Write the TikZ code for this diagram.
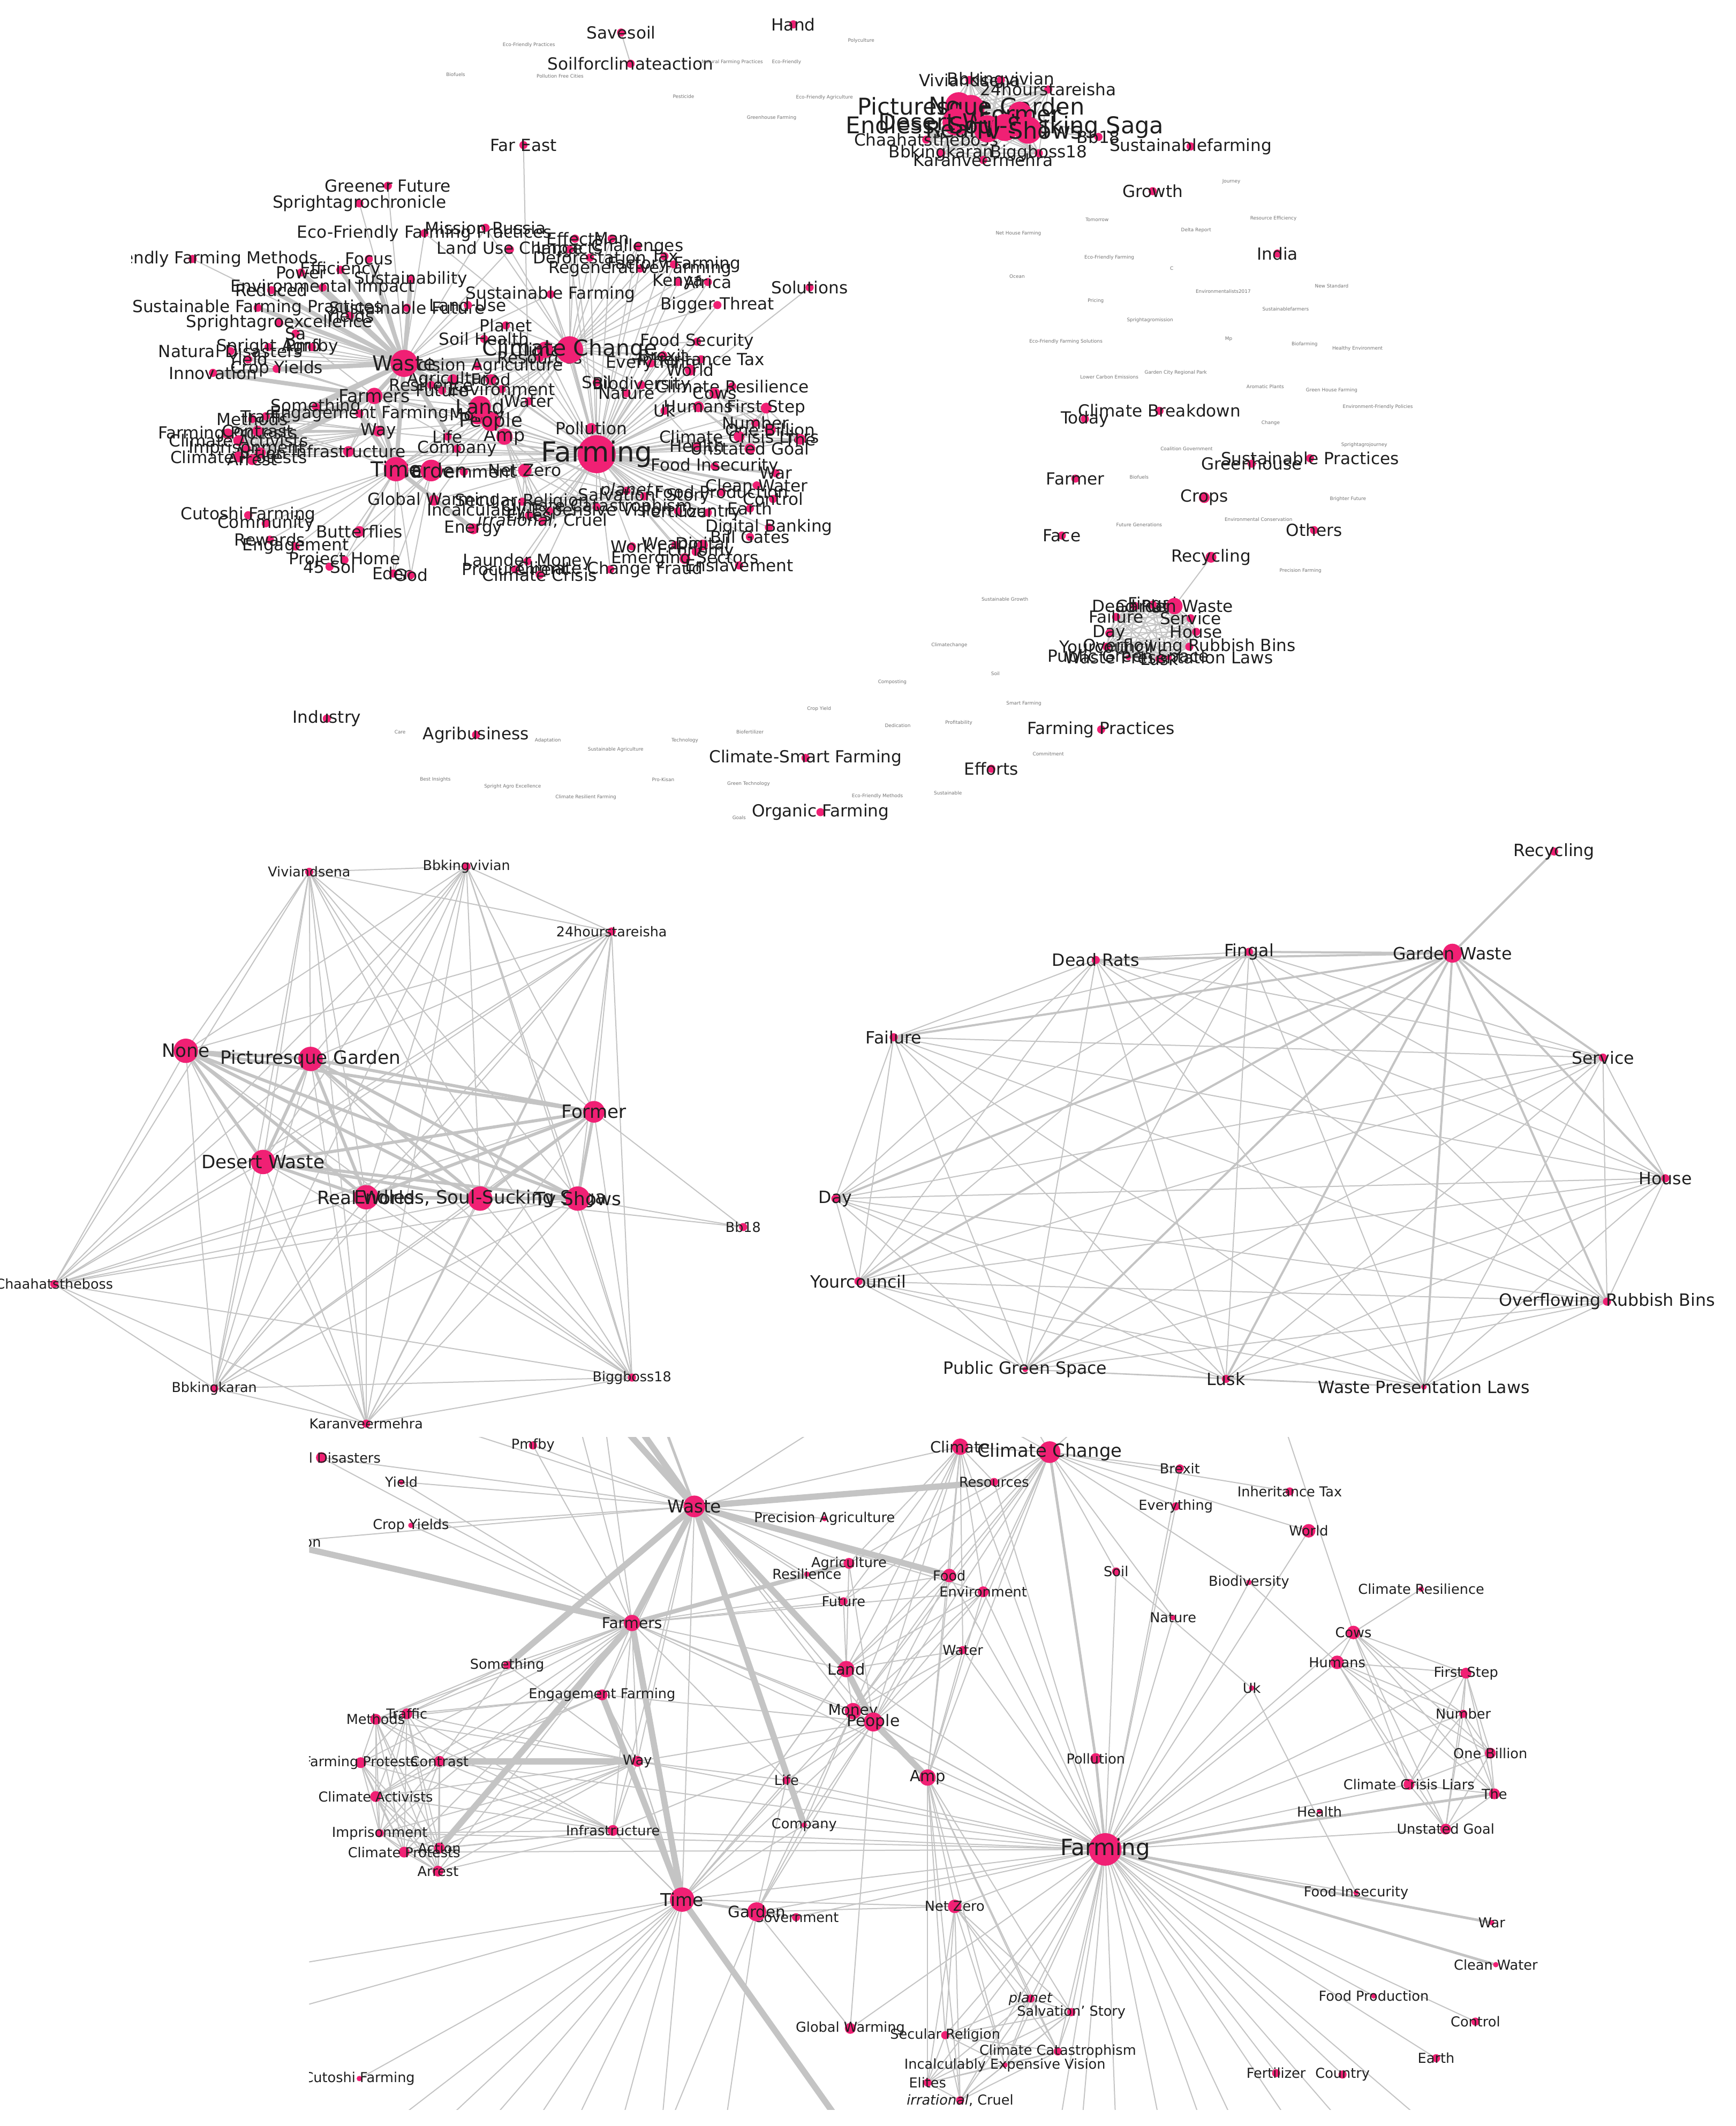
\documentclass[tikz,border=0pt]{standalone}
\usepackage{fontspec}
\setmainfont{DejaVu Sans}
\definecolor{dotc}{RGB}{240,32,116}
\definecolor{edgec}{RGB}{196,196,196}
\definecolor{txtc}{RGB}{30,30,30}
\tikzset{
 dotn/.style={circle,fill=dotc,draw=none,inner sep=0pt},
 lbl/.style={text=txtc,inner sep=0pt},
 tinyl/.style={text=black!55,inner sep=0pt,font=\fontsize{2pt}{2pt}\selectfont},
 edge/.style={draw=edgec,line width=0.45pt},
 md/.style={line width=1.1pt},
 tk/.style={line width=1.8pt},
 bk/.style={line width=2.6pt},
 cr/.style={line width=1.3pt},
}
\newcommand\dfs{7pt}
\newcommand\Xc[6]{\coordinate (#1) at (#2,#3);}
\newcommand\Xd[6]{\node[dotn,minimum size={#4*1.138pt}] (#1d) at (#1) {};\node[lbl,font={\fontsize{#5}{#5}\selectfont}] (#1l) at (#1) {#6};}
\newcommand\Tn[4]{\node[tinyl] (#1) at (#2,#3) {#4};}
\newcommand\mke[3][]{\foreach \q in {#3}{\draw[edge,#1] (#2) -- (\q);}}
\newcommand\mkk[2][]{\foreach \na [count=\ia] in {#2}{\foreach \nb [count=\ib] in {#2}{\ifnum\ib>\ia\relax \draw[edge,#1] (\na) -- (\nb);\fi}}}

% ---------------- top panel data
\newcommand\tdata{%
\X{tHand}{585}{18}{3}{\dfs}{Hand}
\X{tSavesoil}{458}{24}{3}{\dfs}{Savesoil}
\X{tSoilfor}{465}{47}{3}{\dfs}{Soilforclimateaction}
\X{tFarEast}{386}{107}{3}{\dfs}{Far East}
\X{tGreener}{286}{137}{3}{\dfs}{Greener Future}
\X{tSprChron}{265}{150}{3}{\dfs}{Sprightagrochronicle}
\X{tEFFP}{313}{172}{3}{\dfs}{Eco-Friendly Farming Practices}
\X{tMission}{358}{168}{3}{\dfs}{Mission Russia}
\X{tLUC}{376}{184}{3}{\dfs}{Land Use Change}
\X{tEffects}{424}{176}{3}{\dfs}{Effects}
\X{tMan}{451}{176}{3}{\dfs}{Man}
\X{tImpacts}{420}{184}{3}{\dfs}{Impacts}
\X{tChall}{470}{182}{3}{\dfs}{Challenges}
\X{tDefor}{435}{190}{3}{\dfs}{Deforestation}
\X{tTax}{490}{189}{3}{\dfs}{Tax}
\X{tRegen}{472}{198}{3}{\dfs}{Regenerative Farming}
\X{tFactory}{497}{195}{3}{\dfs}{Factory Farming}
\X{tKenya}{500}{208}{3}{\dfs}{Kenya}
\X{tAfrica}{522}{208}{3}{\dfs}{Africa}
\X{tSolutions}{597}{212}{3}{\dfs}{Solutions}
\X{tBigger}{529}{225}{3}{\dfs}{Bigger Threat}
\X{tEFFM}{142}{191}{3}{\dfs}{Eco-Friendly Farming Methods}
\X{tFocus}{272}{191}{3}{\dfs}{Focus}
\X{tEff}{251}{199}{3}{\dfs}{Efficiency}
\X{tPower}{222}{201}{3}{\dfs}{Power}
\X{tSustain}{303}{206}{3}{\dfs}{Sustainability}
\X{tEnvImp}{238}{212}{3}{\dfs}{Environmental Impact}
\X{tReduced}{200}{214}{3}{\dfs}{Reduced}
\X{tSustFarm}{406}{217}{3}{\dfs}{Sustainable Farming}
\X{tSFP}{190}{227}{3}{\dfs}{Sustainable Farming Practices}
\X{tSFut}{300}{227}{3}{\dfs}{Sustainable Future}
\X{tLandUse}{345}{225}{3}{\dfs}{Land Use}
\X{tYields}{258}{233}{3}{\dfs}{Yields}
\X{tSprEx}{206}{238}{3}{\dfs}{Sprightagroexcellence}
\X{tPlanet}{373}{240}{3}{\dfs}{Planet}
\X{tSa}{218}{246}{3}{\dfs}{Sa}
\X{tSoilH}{357}{250}{3}{\dfs}{Soil Health}
\X{tFoodSec}{514}{252}{3}{\dfs}{Food Security}
\X{tSprAgro}{198}{256}{3}{\dfs}{Spright Agro}
\X{tPmfby}{230}{256}{3}{\dfs}{Pmfby}
\X{tNatDis}{170}{259}{3}{\dfs}{Natural Disasters}
\X{tBrexit}{489}{262}{3}{\dfs}{Brexit}
\X{tResources}{398}{264}{3}{\dfs}{Resources}
\X{tInhTax}{517}{265}{3}{\dfs}{Inheritance Tax}
\X{tEverything}{480}{268}{3}{\dfs}{Everything}
\X{tYield}{183}{265}{3}{\dfs}{Yield}
\X{tPrecAg}{352}{270}{3}{\dfs}{Precision Agriculture}
\X{tWorld}{509}{273}{4}{\dfs}{World}
\X{tCropY}{204}{272}{3}{\dfs}{Crop Yields}
\X{tInnov}{157}{275}{3}{\dfs}{Innovation}
\X{tAgri}{334}{280}{4}{\dfs}{Agriculture}
\X{tFood}{362}{280}{4}{\dfs}{Food}
\X{tResil}{318}{284}{3}{\dfs}{Resilience}
\X{tSoil}{440}{282}{3}{\dfs}{Soil}
\X{tBiodiv}{473}{284}{3}{\dfs}{Biodiversity}
\X{tClimRes}{540}{285}{3}{\dfs}{Climate Resilience}
\X{tFuture}{326}{288}{3}{\dfs}{Future}
\X{tEnv}{370}{287}{3}{\dfs}{Environment}
\X{tNature}{462}{290}{3}{\dfs}{Nature}
\X{tCows}{527}{290}{4}{\dfs}{Cows}
\X{tWater}{390}{296}{3}{\dfs}{Water}
\X{tHumans}{515}{300}{4}{\dfs}{Humans}
\X{tFirstStep}{565}{301}{4}{\dfs}{First Step}
\X{tSomething}{233}{300}{3}{\dfs}{Something}
\X{tUk}{490}{303}{3}{\dfs}{Uk}
\X{tEngFarm}{265}{305}{3}{\dfs}{Engagement Farming}
\X{tMethods}{186}{309}{3}{\dfs}{Methods}
\X{tTraffic}{196}{307}{3}{\dfs}{Traffic}
\X{tNumber}{557}{312}{3}{\dfs}{Number}
\X{tOneBillion}{568}{317}{4}{\dfs}{One Billion}
\X{tFarmProt}{168}{320}{4}{\dfs}{Farming Protests}
\X{tContrast}{190}{318}{4}{\dfs}{Contrast}
\X{tWay}{279}{318}{4}{\dfs}{Way}
\X{tLife}{330}{322}{3}{\dfs}{Life}
\X{tPollution}{436}{316}{4}{\dfs}{Pollution}
\X{tClimAct}{176}{325}{4}{\dfs}{Climate Activists}
\X{tCCL}{545}{322}{4}{\dfs}{Climate Crisis Liars}
\X{tThe}{590}{324}{4}{\dfs}{The}
\X{tHealth}{514}{329}{3}{\dfs}{Health}
\X{tImpris}{182}{331}{3}{\dfs}{Imprisonment}
\X{tInfra}{257}{333}{4}{\dfs}{Infrastructure}
\X{tCompany}{337}{331}{3}{\dfs}{Company}
\X{tUnstated}{553}{331}{4}{\dfs}{Unstated Goal}
\X{tAction}{192}{334}{4}{\dfs}{Action}
\X{tClimProt}{176}{337}{4}{\dfs}{Climate Protests}
\X{tArrest}{186}{339}{4}{\dfs}{Arrest}
\X{tFoodInsec}{527}{344}{3}{\dfs}{Food Insecurity}
\X{tNetZero}{387}{347}{5}{\dfs}{Net Zero}
\X{tGov}{342}{348}{3}{\dfs}{Government}
\X{tWar}{572}{349}{3}{\dfs}{War}
\X{tCleanWater}{558}{358}{3}{\dfs}{Clean Water}
\X{tPlanetB}{462}{362}{3}{\dfs}{\textit{planet}}
\X{tFoodProd}{532}{363}{3}{\dfs}{Food Production}
\X{tSalv}{475}{366}{3}{\dfs}{Salvation' Story}
\X{tControl}{570}{368}{3}{\dfs}{Control}
\X{tGlobalW}{320}{369}{4}{\dfs}{Global Warming}
\X{tSecular}{385}{370}{3}{\dfs}{Secular Religion}
\X{tCatas}{440}{374}{3}{\dfs}{Climate Catastrophism}
\X{tEarth}{553}{375}{3}{\dfs}{Earth}
\X{tIncalc}{405}{377}{3}{\dfs}{Incalculably Expensive Vision}
\X{tFert}{500}{377}{3}{\dfs}{Fertilizer}
\X{tCountry}{522}{378}{3}{\dfs}{Country}
\X{tElites}{390}{380}{3}{\dfs}{Elites}
\X{tCutoshi}{183}{380}{3}{\dfs}{Cutoshi Farming}
\X{tIrr}{400}{384}{3}{\dfs}{{\itshape irrational}, Cruel}
\X{tCommunity}{196}{386}{3}{\dfs}{Community}
\X{tDigBank}{567}{389}{3}{\dfs}{Digital Banking}
\X{tEnergy}{349}{390}{4}{\dfs}{Energy}
\X{tButter}{265}{392}{4}{\dfs}{Butterflies}
\X{tBillGates}{553}{396}{3}{\dfs}{Bill Gates}
\X{tRewards}{199}{398}{3}{\dfs}{Rewards}
\X{tWeapon}{498}{402}{3}{\dfs}{Weapon}
\X{tDigital}{518}{402}{4}{\dfs}{Digital}
\X{tWork}{466}{403}{3}{\dfs}{Work}
\X{tEngage}{218}{403}{3}{\dfs}{Engagement}
\X{tEconomy}{513}{407}{3}{\dfs}{Economy}
\X{tEmerging}{505}{412}{4}{\dfs}{Emerging Sectors}
\X{tProjHome}{254}{413}{3}{\dfs}{Project Home}
\X{tLaunder}{389}{414}{3}{\dfs}{Launder Money}
\X{tEnslave}{545}{417}{3}{\dfs}{Enslavement}
\X{t45Sol}{243}{418}{3}{\dfs}{45 Sol}
\X{tProcure}{380}{420}{3}{\dfs}{Procurement}
\X{tCCFraud}{450}{420}{3}{\dfs}{Climate Change Fraud}
\X{tEden}{290}{423}{3}{\dfs}{Eden}
\X{tGod}{303}{424}{3}{\dfs}{God}
\X{tClimCrisis}{398}{424}{3}{\dfs}{Climate Crisis}
\X{tMoney}{352}{307}{6}{\dfs}{Money}
\X{tFarmers}{276}{292}{6}{7.5pt}{Farmers}
\X{tClimate}{402}{258}{6}{7.5pt}{Climate}
\X{tAmp}{372}{322}{6}{7.5pt}{Amp}
\X{tPeople}{362}{311}{7}{8pt}{People}
\X{tLand}{354}{300}{8}{8.5pt}{Land}
\X{tGarden}{318}{347}{8}{8.3pt}{Garden}
\X{tTime}{292}{346}{9}{8.7pt}{Time}
\X{tWaste}{298}{268}{10}{8.7pt}{Waste}
\X{tCC}{420}{258}{10}{9.2pt}{Climate Change}
\X{tFarming}{440}{335}{14}{11.6pt}{Farming}
}
\newcommand\udata{%
\X{uViv}{715}{59}{3}{\dfs}{Viviandsena}
\X{uBbv}{738}{59}{3}{\dfs}{Bbkingvivian}
\X{u24}{773}{66}{3}{\dfs}{24hourstareisha}
\X{uChaa}{683}{103}{3}{\dfs}{Chaahatstheboss}
\X{uBb18}{810}{101}{3}{\dfs}{Bb18}
\X{uBbk}{694}{113}{3}{\dfs}{Bbkingkaran}
\X{uBigg}{766}{113}{3}{\dfs}{Biggboss18}
\X{uKaran}{725}{118}{3}{\dfs}{Karanveermehra}
\X{uSustF}{878}{108}{3}{\dfs}{Sustainablefarming}
\X{uNone}{707}{78}{10}{9.7pt}{None}
\X{uPict}{716}{80}{10}{9.7pt}{Picturesque Garden}
\X{uFormer}{752}{84}{9}{9.7pt}{Former}
\X{uDesert}{705}{90}{10}{9.7pt}{Desert Waste}
\X{uReal}{728}{95}{10}{9.7pt}{Real World}
\X{uEndless}{741}{94}{10}{9.7pt}{Endless, Soul-Sucking Saga}
\X{uTv}{758}{96}{10}{9.7pt}{Tv Shows}
\X{uGrowth}{850}{141}{3}{\dfs}{Growth}
\X{uIndia}{942}{187}{3}{\dfs}{India}
\X{uCB}{855}{303}{3}{\dfs}{Climate Breakdown}
\X{uToday}{800}{309}{3}{\dfs}{Today}
\X{uSP}{966}{338}{3}{\dfs}{Sustainable Practices}
\X{uGreenhouse}{923}{342}{3}{\dfs}{Greenhouse}
\X{uFarmer}{793}{353}{3}{\dfs}{Farmer}
\X{uCrops}{888}{367}{4}{\dfs}{Crops}
\X{uOthers}{969}{391}{3}{\dfs}{Others}
\X{uFace}{783}{395}{3}{\dfs}{Face}
\X{uRecyc}{893}{411}{4}{\dfs}{Recycling}
\X{gDead}{837}{447}{3}{\dfs}{Dead Rats}
\X{gFingal}{850}{446}{3}{\dfs}{Fingal}
\X{gFailure}{823}{455}{3}{\dfs}{Failure}
\X{gService}{878}{456}{3}{\dfs}{Service}
\X{gDay}{818}{467}{3}{\dfs}{Day}
\X{gHouse}{882}{466}{3}{\dfs}{House}
\X{gYour}{816}{477}{3}{\dfs}{Yourcouncil}
\X{gORB}{877}{477}{3}{\dfs}{Overflowing Rubbish Bins}
\X{gPGS}{832}{485}{2}{\dfs}{Public Green Space}
\X{gLusk}{855}{486}{3}{\dfs}{Lusk}
\X{gWPL}{862}{485}{2}{\dfs}{Waste Presentation Laws}
\X{gGW}{866}{447}{6}{\dfs}{Garden Waste}
\X{uIndustry}{241}{530}{3}{\dfs}{Industry}
\X{uAgri}{351}{542}{3}{\dfs}{Agribusiness}
\X{uFP}{812}{538}{3}{\dfs}{Farming Practices}
\X{uCSF}{594}{559}{3}{\dfs}{Climate-Smart Farming}
\X{uEfforts}{731}{567}{3}{\dfs}{Efforts}
\X{uOrganic}{605}{599}{3}{\dfs}{Organic Farming}
}
% ---------------- middle left
\newcommand\ldata{%
\X{lViv}{228}{643}{3}{\dfs}{Viviandsena}
\X{lBbv}{344}{639}{3}{\dfs}{Bbkingvivian}
\X{l24}{451}{687}{3}{\dfs}{24hourstareisha}
\X{lBb18}{548}{905}{3}{\dfs}{Bb18}
\X{lChaa}{40}{947}{3}{\dfs}{Chaahatstheboss}
\X{lBbk}{158}{1024}{3}{\dfs}{Bbkingkaran}
\X{lBigg}{466}{1016}{3}{\dfs}{Biggboss18}
\X{lKaran}{270}{1050}{3}{\dfs}{Karanveermehra}
\X{lNone}{137}{775}{9}{7.7pt}{None}
\X{lPict}{229}{781}{9}{7.7pt}{Picturesque Garden}
\X{lFormer}{438}{820}{8}{7.7pt}{Former}
\X{lDesert}{194}{857}{9}{7.7pt}{Desert Waste}
\X{lReal}{270}{883}{9}{7.7pt}{Real World}
\X{lEndless}{354}{884}{9}{7.7pt}{Endless, Soul-Sucking Saga}
\X{lTv}{426}{884}{9}{7.7pt}{Tv Shows}
}
% ---------------- middle right
\newcommand\rdata{%
\X{rRecyc}{1146}{628}{3}{\dfs}{Recycling}
\X{rDead}{808}{708}{3}{\dfs}{Dead Rats}
\X{rFingal}{921}{702}{3}{\dfs}{Fingal}
\X{rFailure}{659}{765}{3}{\dfs}{Failure}
\X{rService}{1182}{780}{3}{\dfs}{Service}
\X{rDay}{616}{884}{3}{\dfs}{Day}
\X{rHouse}{1228}{869}{3}{\dfs}{House}
\X{rYour}{633}{945}{3}{\dfs}{Yourcouncil}
\X{rORB}{1185}{960}{3}{\dfs}{Overflowing Rubbish Bins}
\X{rPGS}{756}{1010}{2}{\dfs}{Public Green Space}
\X{rLusk}{904}{1017}{3}{\dfs}{Lusk}
\X{rWPL}{1050}{1023}{2}{\dfs}{Waste Presentation Laws}
\X{rGW}{1071}{703}{7}{\dfs}{Garden Waste}
}
% ---------------- bottom
\newcommand\bdata{%
\X{bSprAgro}{330}{1052}{3}{\dfs}{Spright Agro}
\X{bNatDis}{237}{1075}{4}{\dfs}{Natural Disasters}
\X{bPmfby}{393}{1066}{3}{\dfs}{Pmfby}
\X{bYield}{296}{1093}{2}{\dfs}{Yield}
\X{bCropY}{303}{1125}{2}{\dfs}{Crop Yields}
\X{bInnov}{210}{1137}{3}{\dfs}{Innovation}
\X{bCutoshi}{265}{1533}{2}{\dfs}{Cutoshi Farming}
\X{bResources}{733}{1093}{3}{\dfs}{Resources}
\X{bBrexit}{870}{1083}{3}{\dfs}{Brexit}
\X{bInhTax}{951}{1100}{3}{\dfs}{Inheritance Tax}
\X{bEverything}{867}{1111}{3}{\dfs}{Everything}
\X{bWorld}{965}{1129}{5}{\dfs}{World}
\X{bPrecAg}{608}{1120}{2}{\dfs}{Precision Agriculture}
\X{bAgri}{626}{1153}{4}{\dfs}{Agriculture}
\X{bResil}{595}{1161}{2}{\dfs}{Resilience}
\X{bFood}{700}{1162}{5}{\dfs}{Food}
\X{bEnv}{725}{1174}{4}{\dfs}{Environment}
\X{bFuture}{622}{1181}{3}{\dfs}{Future}
\X{bSoil}{823}{1159}{3}{\dfs}{Soil}
\X{bBiodiv}{921}{1167}{2}{\dfs}{Biodiversity}
\X{bClimRes}{1048}{1172}{2}{\dfs}{Climate Resilience}
\X{bNature}{865}{1193}{2}{\dfs}{Nature}
\X{bWater}{710}{1217}{3}{\dfs}{Water}
\X{bCows}{998}{1204}{5}{\dfs}{Cows}
\X{bHumans}{986}{1226}{5}{\dfs}{Humans}
\X{bFirstStep}{1081}{1234}{4}{\dfs}{First Step}
\X{bSomething}{374}{1228}{3}{\dfs}{Something}
\X{bUk}{923}{1245}{2}{\dfs}{Uk}
\X{bEngFarm}{444}{1250}{4}{\dfs}{Engagement Farming}
\X{bNumber}{1079}{1264}{3}{\dfs}{Number}
\X{bMethods}{277}{1268}{4}{\dfs}{Methods}
\X{bTraffic}{300}{1264}{4}{\dfs}{Traffic}
\X{bFarmProt}{266}{1300}{4}{\dfs}{Farming Protests}
\X{bContrast}{324}{1299}{4}{\dfs}{Contrast}
\X{bWay}{470}{1299}{4}{\dfs}{Way}
\X{bOneBillion}{1099}{1293}{4}{\dfs}{One Billion}
\X{bLife}{580}{1313}{3}{\dfs}{Life}
\X{bPollution}{808}{1297}{4}{\dfs}{Pollution}
\X{bCCL}{1039}{1316}{4}{\dfs}{Climate Crisis Liars}
\X{bThe}{1102}{1323}{4}{\dfs}{The}
\X{bClimAct}{277}{1325}{4}{\dfs}{Climate Activists}
\X{bHealth}{973}{1336}{2}{\dfs}{Health}
\X{bCompany}{593}{1346}{2}{\dfs}{Company}
\X{bInfra}{452}{1350}{4}{\dfs}{Infrastructure}
\X{bUnstated}{1066}{1349}{4}{\dfs}{Unstated Goal}
\X{bImpris}{280}{1352}{3}{\dfs}{Imprisonment}
\X{bAction}{324}{1363}{4}{\dfs}{Action}
\X{bClimProt}{298}{1366}{4}{\dfs}{Climate Protests}
\X{bArrest}{323}{1380}{4}{\dfs}{Arrest}
\X{bFoodInsec}{1000}{1396}{2}{\dfs}{Food Insecurity}
\X{bGov}{587}{1414}{3}{\dfs}{Government}
\X{bNetZero}{704}{1406}{5}{\dfs}{Net Zero}
\X{bWar}{1100}{1418}{2}{\dfs}{War}
\X{bCleanWater}{1103}{1449}{2}{\dfs}{Clean Water}
\X{bPlanet}{760}{1474}{3}{\dfs}{\textit{planet}}
\X{bSalv}{790}{1484}{3}{\dfs}{Salvation' Story}
\X{bFoodProd}{1013}{1472}{2}{\dfs}{Food Production}
\X{bGlobalW}{627}{1496}{4}{\dfs}{Global Warming}
\X{bSecular}{697}{1501}{3}{\dfs}{Secular Religion}
\X{bControl}{1088}{1491}{3}{\dfs}{Control}
\X{bCatas}{780}{1513}{3}{\dfs}{Climate Catastrophism}
\X{bIncalc}{741}{1523}{2}{\dfs}{Incalculably Expensive Vision}
\X{bEarth}{1059}{1518}{3}{\dfs}{Earth}
\X{bElites}{684}{1536}{3}{\dfs}{Elites}
\X{bFert}{941}{1529}{3}{\dfs}{Fertilizer}
\X{bCountry}{990}{1530}{3}{\dfs}{Country}
\X{bIrr}{708}{1549}{3}{\dfs}{{\itshape irrational}, Cruel}
\X{bClimate}{708}{1067}{6}{6.5pt}{Climate}
\X{bLand}{624}{1231}{6}{6.5pt}{Land}
\X{bMoney}{629}{1262}{6}{6.3pt}{Money}
\X{bPeople}{644}{1270}{7}{6.7pt}{People}
\X{bAmp}{684}{1311}{6}{6.5pt}{Amp}
\X{bFarmers}{466}{1197}{6}{6.3pt}{Farmers}
\X{bGarden}{558}{1410}{7}{6.6pt}{Garden}
\X{bTime}{503}{1401}{9}{7.4pt}{Time}
\X{bWaste}{512}{1111}{8}{7.4pt}{Waste}
\X{bCC}{774}{1071}{8}{7.6pt}{Climate Change}
\X{bFarming}{815}{1364}{12}{9.4pt}{Farming}
}

\begin{document}
\begin{tikzpicture}[x=0.02cm,y=-0.02cm]
\useasboundingbox (0,0) rectangle (1280,1568);
\fill[white] (0,0) rectangle (1280,1568);

% ================= TOP PANEL
\begin{scope}
\clip (97,0) rectangle (1280,612);
\renewcommand\dfs{7pt}
\let\X\Xc \tdata \udata
\mke[tk]{tWaste}{tEnvImp,tPower,tEff,tSustain,tSFP,tInnov,tCropY,tFarmers,tTime,tSomething,tResources,tFood,tLand,tCompany,tContrast,tFocus,tReduced}
\mke[tk]{tFarmers}{tContrast,tAction,tTime,tInnov,tAgri}
\mke[tk]{tLand}{tAmp}
\mke[tk]{tTime}{tEngFarm,tEnergy}
\mke[md]{tFarming}{tCC,tPollution,tThe,tWar,tCleanWater}
\mke[md]{tWay}{tContrast}
\mke[md]{tTime}{tGarden}
\mke{tFarming}{tClimate,tResources,tSoil,tNature,tBiodiv,tWorld,tEverything,tInhTax,tBrexit,tFoodSec,tWater,tEnv,tFood,tUk,tCows,tHumans,tFirstStep,tNumber,tOneBillion,tCCL,tHealth,tUnstated,tFoodInsec,tFoodProd,tControl,tEarth,tCountry,tFert,tSalv,tPlanetB,tCatas,tIncalc,tSecular,tElites,tIrr,tNetZero,tAmp,tPeople,tMoney,tLand,tLife,tCompany,tInfra,tWay,tTime,tGarden,tGov,tDigBank,tBillGates,tWeapon,tDigital,tEconomy,tWork,tEmerging,tEnslave,tLaunder,tProcure,tCCFraud,tClimCrisis,tSustFarm,tPlanet,tBigger,tSolutions,tRegen,tFactory,tKenya,tAfrica,tClimRes,tDefor,tTax,tChall,tImpacts,tEffects,tMan,tSoilH,tFarmers,tGlobalW,tImpris,tClimProt}
\mke{tCC}{tClimate,tResources,tBrexit,tInhTax,tEverything,tWorld,tNature,tBiodiv,tFood,tEnv,tWater,tAgri,tFuture,tLand,tPeople,tMoney,tAmp,tSustFarm,tPlanet,tSoilH,tLUC,tMission,tEFFP,tImpacts,tEffects,tDefor,tRegen,tFactory,tKenya,tAfrica,tBigger,tFoodSec,tChall,tMan,tTax,tSoil}
\mke{tWaste}{tPrecAg,tAgri,tResil,tFuture,tEnv,tClimate,tMoney,tPeople,tLife,tWay,tEngFarm,tInfra,tYield,tNatDis,tPmfby,tSprAgro,tSa,tSprEx,tYields,tSFut,tLandUse,tEFFP,tMission,tSprChron,tGreener,tEFFM,tPlanet,tSustFarm,tLUC}
\mke{tTime}{tFarmers,tWay,tInfra,tGov,tNetZero,tPeople,tMoney,tLand,tLife,tCompany,tCutoshi,tCommunity,tButter,tRewards,tEngage,tProjHome,t45Sol,tEden,tGod,tGlobalW}
\mke{tFarmers}{tMethods,tTraffic,tFarmProt,tClimAct,tImpris,tClimProt,tArrest,tWay,tEngFarm,tInfra,tSomething,tResil,tFuture,tFood,tEnv,tLand,tMoney,tPeople,tLife,tPmfby,tYield,tNatDis}
\mkk{tMethods,tTraffic,tFarmProt,tContrast,tClimAct,tImpris,tClimProt,tAction,tArrest}
\mke{tWay}{tMethods,tTraffic,tFarmProt,tClimAct,tImpris,tAction,tArrest,tEngFarm,tInfra,tPeople}
\mke{tInfra}{tMethods,tContrast,tClimAct,tAction,tArrest}
\mke{tAmp}{tNetZero,tSecular,tElites,tIrr,tIncalc,tCatas,tSalv,tPlanetB,tFood,tEnv,tWater}
\mke{tNetZero}{tSecular,tElites,tIrr,tIncalc,tCatas,tSalv,tGarden}
\mkk{tPlanetB,tSalv,tSecular,tCatas,tIncalc,tElites,tIrr}
\mkk{tCows,tHumans,tFirstStep,tNumber,tOneBillion,tCCL,tThe,tUnstated}
\mke{tGarden}{tEden,tGod,tProjHome,tButter,tCompany,tPeople,tMoney,tGov}
\mke{tPeople}{tLand,tWater,tFood,tEnv,tAgri,tCompany,tLife,tGlobalW}
\mke{tFarEast}{tWater}
\mke{tSavesoil}{tSoilfor}
\mke{tClimRes}{tCows}
\mke{tUk}{tFoodInsec}
\mkk{uViv,uBbv,u24,uNone,uPict,uFormer,uDesert,uReal,uEndless,uTv,uChaa,uBbk,uBigg,uKaran}
\mke{uBb18}{uTv,uEndless,uFormer}
\mkk{gDead,gFingal,gGW,gFailure,gService,gDay,gHouse,gYour,gORB,gPGS,gLusk,gWPL}
\mke{gGW}{uRecyc}
\let\X\Xd \tdata \udata
% tiny labels
\Tn{s1}{390}{33}{Eco-Friendly Practices}
\Tn{s2}{635}{30}{Polyculture}
\Tn{s3}{540}{46}{Natural Farming Practices}
\Tn{s4}{580}{46}{Eco-Friendly}
\Tn{s5}{336}{55}{Biofuels}
\Tn{s6}{413}{56}{Pollution Free Cities}
\Tn{s7}{504}{71}{Pesticide}
\Tn{s8}{608}{72}{Eco-Friendly Agriculture}
\Tn{s9}{569}{87}{Greenhouse Farming}
\Tn{s10}{908}{134}{Journey}
\Tn{s11}{809}{162}{Tomorrow}
\Tn{s12}{939}{161}{Resource Efficiency}
\Tn{s13}{751}{172}{Net House Farming}
\Tn{s14}{882}{170}{Delta Report}
\Tn{s15}{818}{190}{Eco-Friendly Farming}
\Tn{s16}{864}{198}{C}
\Tn{s17}{750}{204}{Ocean}
\Tn{s18}{902}{215}{Environmentalists2017}
\Tn{s19}{982}{211}{New Standard}
\Tn{s20}{808}{222}{Pricing}
\Tn{s21}{948}{228}{Sustainablefarmers}
\Tn{s22}{848}{236}{Sprightagromission}
\Tn{s23}{786}{252}{Eco-Friendly Farming Solutions}
\Tn{s24}{906}{250}{Mp}
\Tn{s25}{962}{254}{Biofarming}
\Tn{s26}{1001}{257}{Healthy Environment}
\Tn{s27}{867}{275}{Garden City Regional Park}
\Tn{s28}{818}{278}{Lower Carbon Emissions}
\Tn{s29}{933}{285}{Aromatic Plants}
\Tn{s30}{982}{288}{Green House Farming}
\Tn{s31}{1016}{300}{Environment-Friendly Policies}
\Tn{s32}{937}{312}{Change}
\Tn{s33}{1006}{328}{Sprightagrojourney}
\Tn{s34}{875}{331}{Coalition Government}
\Tn{s35}{840}{352}{Biofuels}
\Tn{s36}{994}{368}{Brighter Future}
\Tn{s37}{928}{383}{Environmental Conservation}
\Tn{s38}{840}{387}{Future Generations}
\Tn{s39}{959}{421}{Precision Farming}
\Tn{s40}{741}{442}{Sustainable Growth}
\Tn{s41}{700}{476}{Climatechange}
\Tn{s42}{734}{497}{Soil}
\Tn{s43}{658}{503}{Composting}
\Tn{s44}{755}{519}{Smart Farming}
\Tn{s45}{604}{523}{Crop Yield}
\Tn{s46}{707}{533}{Profitability}
\Tn{s47}{662}{535}{Dedication}
\Tn{s48}{553}{540}{Biofertilizer}
\Tn{s49}{295}{540}{Care}
\Tn{s50}{404}{546}{Adaptation}
\Tn{s51}{505}{546}{Technology}
\Tn{s52}{454}{553}{Sustainable Agriculture}
\Tn{s53}{773}{556}{Commitment}
\Tn{s54}{321}{575}{Best Insights}
\Tn{s55}{378}{580}{Spright Agro Excellence}
\Tn{s56}{489}{575}{Pro-Kisan}
\Tn{s57}{552}{578}{Green Technology}
\Tn{s58}{432}{588}{Climate Resilient Farming}
\Tn{s59}{647}{587}{Eco-Friendly Methods}
\Tn{s60}{699}{585}{Sustainable}
\Tn{s61}{545}{603}{Goals}
\end{scope}

% ================= MIDDLE LEFT
\begin{scope}
\clip (0,614) rectangle (582,1058);
\renewcommand\dfs{5.7pt}
\let\X\Xc \ldata
\mkk{lViv,lBbv,l24,lNone,lPict,lFormer,lDesert,lReal,lEndless,lTv,lChaa,lBbk,lBigg,lKaran}
\mkk[cr]{lNone,lPict,lFormer,lDesert,lReal,lEndless,lTv}
\mke{lBb18}{lTv,lEndless,lFormer}
\let\X\Xd \ldata
\end{scope}

% ================= MIDDLE RIGHT
\begin{scope}
\clip (585,614) rectangle (1280,1058);
\renewcommand\dfs{7.1pt}
\let\X\Xc \rdata
\mkk{rDead,rFingal,rGW,rFailure,rService,rDay,rHouse,rYour,rORB,rPGS,rLusk,rWPL}
\mke[line width=0.9pt]{rGW}{rDead,rFingal,rFailure,rService,rDay,rHouse,rYour,rORB,rPGS,rLusk,rWPL,rRecyc}
\let\X\Xd \rdata
\end{scope}

% ================= BOTTOM PANEL
\begin{scope}
\clip (228,1060) rectangle (1280,1556);
\renewcommand\dfs{5.75pt}
\let\X\Xc \bdata
\coordinate (bOT1) at (430,1020);
\coordinate (bOT2) at (448,1020);
\coordinate (bOT3) at (478,1020);
\coordinate (bOT4) at (655,1020);
\coordinate (bOT5) at (419,1020);
\coordinate (bOT6) at (442,1020);
\coordinate (bOT7) at (700,1030);
\coordinate (bOT8) at (750,1030);
\coordinate (bOT9) at (820,1030);
\coordinate (bOT10) at (940,1030);
\coordinate (bOL1) at (150,1125);
\coordinate (bOL3) at (150,1500);
\coordinate (bOL4) at (150,1460);
\coordinate (bOB1) at (245,1600);
\coordinate (bOB2) at (290,1600);
\coordinate (bOB3) at (331,1600);
\coordinate (bOB4) at (372,1600);
\coordinate (bOB5) at (408,1600);
\coordinate (bOB6) at (449,1600);
\coordinate (bOB7) at (485,1600);
\coordinate (bOB8) at (480,1600);
\coordinate (bOB9) at (530,1600);
\coordinate (bOBt) at (644,1600);
\coordinate (bOF1) at (776,1600);
\coordinate (bOF2) at (795,1600);
\coordinate (bOF3) at (824,1600);
\coordinate (bOF4) at (862,1600);
\coordinate (bOF5) at (898,1600);
\coordinate (bOF6) at (926,1600);
\coordinate (bOF7) at (974,1600);
\coordinate (bOF8) at (1019,1600);
\coordinate (bOF9) at (1091,1600);
% thin edges
\mke{bFarming}{bClimate,bResources,bSoil,bNature,bBiodiv,bWorld,bEverything,bBrexit,bWater,bEnv,bFood,bUk,bCows,bHumans,bFirstStep,bNumber,bCCL,bUnstated,bFoodInsec,bFoodProd,bControl,bEarth,bCountry,bFert,bSalv,bPlanet,bCatas,bIncalc,bSecular,bElites,bIrr,bNetZero,bAmp,bPeople,bMoney,bLand,bLife,bCompany,bInfra,bWay,bTime,bGarden,bGov,bFarmers,bGlobalW,bImpris,bClimProt,bContrast,bOF1,bOF2,bOF3,bOF4,bOF5,bOF6,bOF7,bOF8,bOF9}
\mke{bCC}{bClimate,bResources,bBrexit,bInhTax,bEverything,bWorld,bNature,bBiodiv,bFood,bEnv,bWater,bAgri,bFuture,bLand,bPeople,bMoney,bAmp,bSoil,bOT7,bOT8,bOT9}
\mke{bClimate}{bResources,bFood,bEnv,bAgri,bWater,bFuture,bPeople,bLand,bAmp,bMoney}
\mke{bWaste}{bPrecAg,bAgri,bResil,bFuture,bEnv,bClimate,bMoney,bPeople,bWay,bEngFarm,bInfra,bYield,bCropY,bNatDis,bPmfby,bInnov,bOT4,bTime,bSprAgro}
\mke{bFarmers}{bMethods,bTraffic,bFarmProt,bClimAct,bImpris,bClimProt,bArrest,bWay,bEngFarm,bInfra,bSomething,bResil,bFuture,bFood,bEnv,bLand,bMoney,bPeople,bLife,bPmfby,bYield,bNatDis,bOT5,bOT6,bCropY}
\mkk{bMethods,bTraffic,bFarmProt,bContrast,bClimAct,bImpris,bClimProt,bAction,bArrest}
\mke{bWay}{bMethods,bTraffic,bFarmProt,bClimAct,bImpris,bAction,bArrest,bClimProt,bTime,bEngFarm,bInfra,bPeople,bLife,bSomething}
\mke{bInfra}{bMethods,bTraffic,bFarmProt,bContrast,bClimAct,bImpris,bClimProt,bAction,bArrest,bTime,bPeople}
\mke{bSomething}{bMethods,bTraffic,bContrast}
\mke{bEngFarm}{bMethods,bTraffic,bContrast,bClimAct,bPeople}
\mke{bTime}{bWay,bInfra,bGov,bNetZero,bPeople,bMoney,bLand,bLife,bCompany,bCutoshi,bOB1,bOB2,bOB3,bOB4,bOB5,bOB6,bOB7,bOL3,bOL4}
\mke{bGarden}{bGov,bCompany,bPeople,bMoney,bLife,bNetZero,bGlobalW,bOB8,bOB9}
\mke{bPeople}{bLand,bWater,bFood,bEnv,bAgri,bCompany,bLife,bGlobalW}
\mke{bMoney}{bLand,bFood,bEnv,bWater,bCompany}
\mke{bLand}{bAgri,bFuture,bFood,bEnv,bWater,bTime}
\mke{bAmp}{bNetZero,bSecular,bElites,bIrr,bIncalc,bCatas,bSalv,bPlanet,bFood,bEnv,bWater}
\mke{bNetZero}{bSecular,bElites,bIrr,bIncalc,bCatas,bSalv,bPlanet}
\mkk{bPlanet,bSalv,bSecular,bCatas,bIncalc,bElites,bIrr}
\mkk{bCows,bHumans,bFirstStep,bNumber,bOneBillion,bCCL,bThe,bUnstated}
\mke{bHumans}{bBiodiv}
\mke{bUk}{bFoodInsec,bSoil}
\mke{bCows}{bClimRes,bOT10}
% medium / thick edges
\mke[md]{bFarming}{bThe,bWar,bCleanWater}
\mke[md]{bCC}{bPollution}
\mke[md]{bPollution}{bFarming}
\mke[md]{bTime}{bGarden}
\mke[md]{bWaste}{bOT3}
\mke[tk]{bFarmers}{bAgri}
\mke[bk]{bWaste}{bResources,bFood,bLand,bCompany,bSomething,bFarmers,bOT1,bOT2}
\mke[bk]{bLand}{bPeople}
\mke[bk]{bPeople}{bAmp}
\mke[bk]{bFarmers}{bOL1,bAction,bTime}
\mke[bk]{bEngFarm}{bTime}
\mke[bk]{bWay}{bContrast}
\mke[bk]{bTime}{bOBt}
\let\X\Xd \bdata
\end{scope}
\end{tikzpicture}
\end{document}
